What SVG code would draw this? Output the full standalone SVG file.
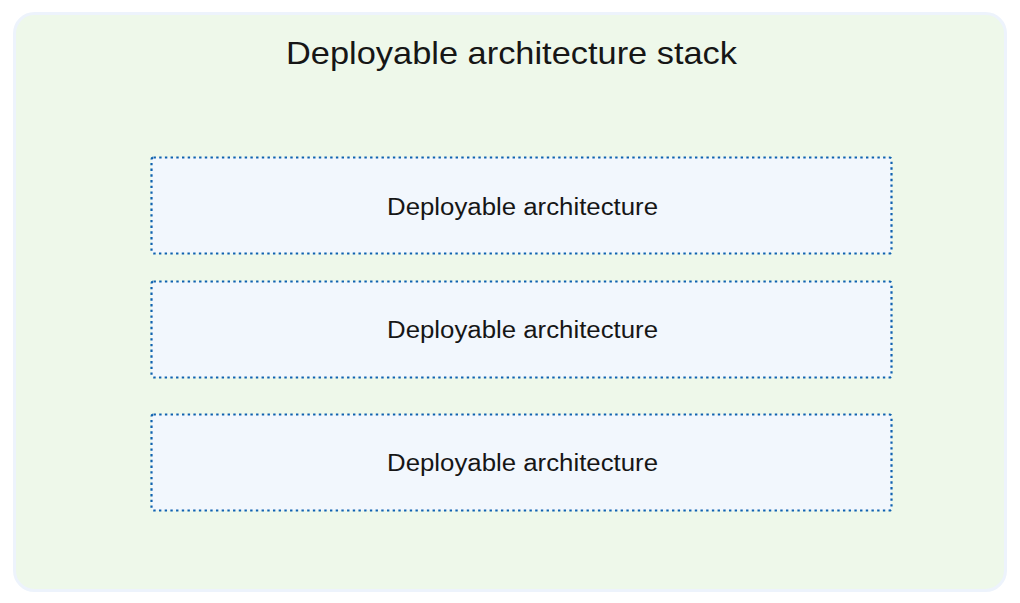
<svg xmlns="http://www.w3.org/2000/svg" width="1020" height="603" viewBox="0 0 1020 603">
<style>
.t{font-family:"Liberation Sans",Arial,sans-serif;fill:#161616;text-anchor:middle}
.box{fill:#f2f7fd;stroke:#0f62b0;stroke-width:2.2;stroke-dasharray:2.4 3.3}
</style>
<rect width="1020" height="603" fill="#ffffff"/>
<g id="stack">
<rect x="14.5" y="13.5" width="991" height="577" rx="20" fill="#eef8ea" stroke="#edf3fc" stroke-width="3"/>
<text class="t" x="511.5" y="64" font-size="32" textLength="451" lengthAdjust="spacingAndGlyphs">Deployable architecture stack</text>
</g>
<g id="da1">
<rect class="box" x="151.5" y="157.5" width="740" height="96" rx="2"/>
<text class="t" x="522.5" y="215" font-size="23" textLength="271" lengthAdjust="spacingAndGlyphs">Deployable architecture</text>
</g>
<g id="da2">
<rect class="box" x="151.5" y="281.5" width="740" height="96" rx="2"/>
<text class="t" x="522.5" y="338" font-size="23" textLength="271" lengthAdjust="spacingAndGlyphs">Deployable architecture</text>
</g>
<g id="da3">
<rect class="box" x="151.5" y="414.5" width="740" height="96" rx="2"/>
<text class="t" x="522.5" y="471" font-size="23" textLength="271" lengthAdjust="spacingAndGlyphs">Deployable architecture</text>
</g>
<g id="connectors"/>
</svg>
